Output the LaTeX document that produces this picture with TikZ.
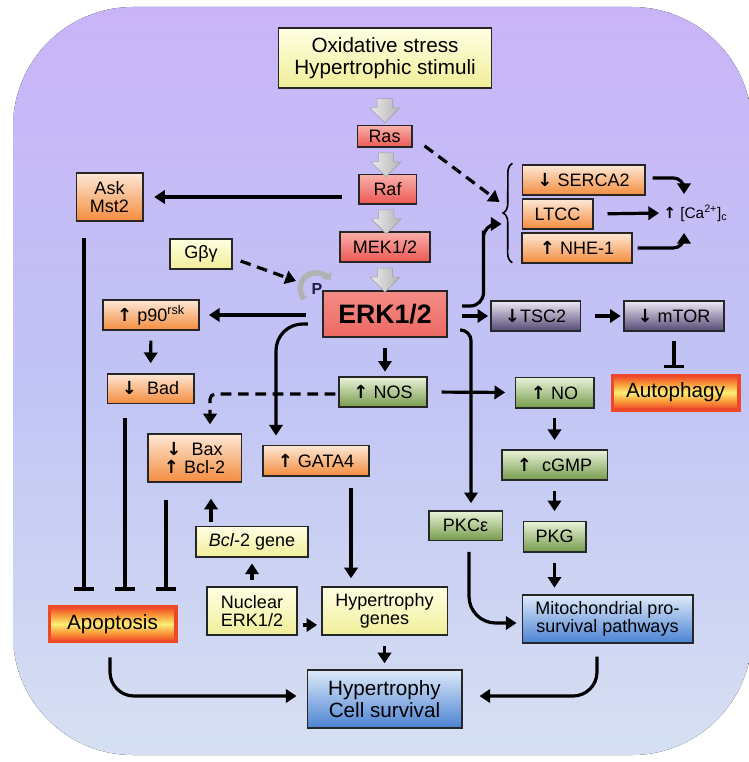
\documentclass[tikz,border=0pt]{standalone}
\usepackage{fontspec}
\setmainfont{Liberation Sans}
\newfontfamily\arrfont{DejaVu Sans}
\usetikzlibrary{shapes.arrows, arrows.meta, calc, decorations.pathreplacing}

\definecolor{bgtop}{RGB}{201,180,248}
\definecolor{bgmid}{RGB}{193,196,244}
\definecolor{bgbot}{RGB}{214,224,242}
\definecolor{ytop}{RGB}{255,255,228}
\definecolor{ybot}{RGB}{240,238,152}
\definecolor{rtop}{RGB}{250,175,170}
\definecolor{rbot}{RGB}{236,88,82}
\definecolor{otop}{RGB}{253,232,214}
\definecolor{obot}{RGB}{244,140,62}
\definecolor{gtop}{RGB}{234,243,218}
\definecolor{gbot}{RGB}{118,155,76}
\definecolor{ptop}{RGB}{236,232,246}
\definecolor{pbot}{RGB}{86,72,116}
\definecolor{btop}{RGB}{222,234,250}
\definecolor{bbot}{RGB}{76,130,210}
\definecolor{hin}{RGB}{255,238,118}
\definecolor{hmid}{RGB}{250,158,60}
\definecolor{hout}{RGB}{238,72,40}
\definecolor{pcol}{RGB}{30,30,70}

\pgfdeclareverticalshading{glow}{100bp}{color(0bp)=(hout); color(26bp)=(hout); color(38bp)=(hmid); color(50bp)=(hin); color(62bp)=(hmid); color(74bp)=(hout); color(100bp)=(hout)}

\newcommand{\fsn}{\fontsize{13.5}{13.5}\selectfont}
\newcommand{\fsl}{\fontsize{15.5}{16.5}\selectfont}
\newcommand{\up}{{\arrfont\bfseries ↑}}
\newcommand{\dn}{{\arrfont\bfseries ↓}}

\tikzstyle{box} = [rectangle, draw=black!85, line width=1pt, inner sep=1pt, align=center, font=\fsn]
\tikzstyle{ybox} = [box, top color=ytop, bottom color=ybot]
\tikzstyle{rbox} = [box, top color=rtop, bottom color=rbot]
\tikzstyle{obox} = [box, top color=otop, bottom color=obot]
\tikzstyle{gbox} = [box, top color=gtop, bottom color=gbot]
\tikzstyle{pbox} = [box, top color=ptop, bottom color=pbot]
\tikzstyle{bbox} = [box, top color=btop, bottom color=bbot]
\tikzstyle{hbox} = [box, draw=hout, line width=2.5pt, shading=glow, font=\fsl]
\tikzstyle{arr} = [line width=2.4pt, -{Triangle[length=8pt,width=10pt]}]
\tikzstyle{inh} = [line width=2.4pt, -{Bar[width=15pt]}]
\tikzstyle{dashln} = [dash pattern=on 8pt off 5pt]
\tikzstyle{garrow} = [single arrow, rotate=-90, draw=gray!75, left color=gray!15, right color=gray!60, minimum height=18pt, minimum width=22pt, single arrow head extend=5.5pt, inner xsep=0pt, inner ysep=5.5pt]

\begin{document}
\begin{tikzpicture}[x=0.75pt, y=-0.75pt]
    \useasboundingbox (0,0) rectangle (748,762);
    \fill[top color=bgtop, bottom color=bgbot, middle color=bgmid, rounded corners=90pt] (13,7) rectangle (752,755);

    % MAPK cascade
    \node[ybox, font=\fsl, minimum width=160pt, minimum height=45pt] (stress) at (385,58) {Oxidative stress\\Hypertrophic stimuli};
    \node[rbox, minimum width=41pt, minimum height=16pt] (ras) at (384.5,136.5) {Ras};
    \node[rbox, minimum width=43pt, minimum height=22pt] (raf) at (387.5,189.5) {Raf};
    \node[rbox, minimum width=67.5pt, minimum height=22.5pt] (mek) at (385,247) {MEK1/2};
    \node[rbox, top color=rtop!60!rbot, bottom color=rbot!90, line width=1.8pt, font=\bfseries\fontsize{20}{20}\selectfont, minimum width=93pt, minimum height=34.5pt] (erk) at (385,314) {ERK1/2};
    \node[garrow] (g1) at ($(stress.south)!0.5!(ras.north)$) {};
    \node[garrow] (g2) at ($(ras.south)!0.5!(raf.north)$) {};
    \node[garrow] (g3) at ($(raf.south)!0.5!(mek.north)$) {};
    \node[garrow] (g4) at ($(mek.south)!0.5!(erk.north)$) {};

    \node[ybox, minimum width=46.5pt, minimum height=22.5pt] (gby) at (201,254) {Gβγ};
    \node[font=\bfseries\fontsize{12}{12}\selectfont, text=pcol, inner sep=0pt] (p) at (317,289) {P};

    % left branch
    \node[obox, minimum width=50pt, minimum height=36pt] (ask) at (109.5,197) {Ask\\Mst2};
    \node[obox, minimum width=72pt, minimum height=22.5pt] (p90) at (151,315) {\up\ p90\textsuperscript{rsk}};
    \node[obox, minimum width=65pt, minimum height=22pt] (bad) at (150.5,388.5) {\dn\ \ Bad};
    \node[obox, minimum width=70pt, minimum height=36pt] (bax) at (194.5,458) {\dn\ \ Bax\\\up\ Bcl-2};
    \node[obox, minimum width=79.5pt, minimum height=23pt] (gata) at (316,460.5) {\up\ GATA4};
    \node[hbox, minimum width=95pt, minimum height=26.5pt] (apop) at (112.5,624) {Apoptosis};

    % NO branch
    \node[gbox, minimum width=66pt, minimum height=22.5pt] (nos) at (383,392) {\up\ NOS};
    \node[gbox, minimum width=59pt, minimum height=23pt] (no) at (554.5,392.5) {\up\ NO};
    \node[gbox, minimum width=79pt, minimum height=22.5pt] (cgmp) at (554.5,465) {\up\ \ cGMP};
    \node[gbox, minimum width=47pt, minimum height=23pt] (pkg) at (554.5,536.5) {PKG};
    \node[gbox, minimum width=55pt, minimum height=22pt] (pkce) at (465.5,525.5) {PKCε};
    \node[bbox, minimum width=128pt, minimum height=36pt] (mito) at (607.5,619) {Mitochondrial pro-\\survival pathways};

    % right branch
    \node[pbox, minimum width=67pt, minimum height=22.5pt] (tsc) at (535.5,316) {\dn TSC2};
    \node[pbox, minimum width=75pt, minimum height=22.5pt] (mtor) at (674,316) {\dn\ mTOR};
    \node[hbox, minimum width=95pt, minimum height=26pt] (auto) at (675.5,392.5) {Autophagy};
    \node[obox, minimum width=92pt, minimum height=22.5pt] (serca) at (583.5,180) {\dn\ SERCA2};
    \node[obox, minimum width=53pt, minimum height=22.5pt] (ltcc) at (557.5,214) {LTCC};
    \node[obox, minimum width=82.5pt, minimum height=22.5pt] (nhe) at (577,248) {\up\ NHE-1};
    \node[font=\fontsize{11.5}{11.5}\selectfont, inner sep=0pt, anchor=west] (ca) at (663,213) {\up\ [Ca\textsuperscript{2+}]\textsubscript{c}};
    \coordinate (br) at ($(ltcc.west)+(-20,0)$);

    % nucleus
    \node[ybox, minimum width=84pt, minimum height=23pt] (bclg) at (252,541.5) {\textit{Bcl}-2 gene};
    \node[ybox, minimum width=67.5pt, minimum height=36pt] (nuc) at (252,611) {Nuclear\\ERK1/2};
    \node[ybox, minimum width=94pt, minimum height=36pt] (hypg) at (384.5,611) {Hypertrophy\\genes};
    \node[bbox, font=\fsl, minimum width=116pt, minimum height=43.5pt] (surv) at (384.5,699) {Hypertrophy\\Cell survival};

    % phosphorylation
    \draw[gray!60, line width=4pt, -{Triangle[length=5pt,width=9pt]}] ($(p.center)+(-13,10)$) arc[start angle=220, end angle=30, radius=12pt];
    \draw[arr, dashln] ($(gby.east)+(8,7)$) -- ($(p.center)+(-21,-8)$);

    % calcium
    \draw[line width=1.2pt, decorate, decoration={brace, amplitude=7pt}] ($(nhe.south west)+(-9,-1)$) -- ($(serca.north west)+(-9,-1)$);
    \draw[arr, dashln] ($(ras.south east)+(12,-2)$) -- ($(br)+(-2,-12)$);
    \draw[arr, rounded corners=10pt] ($(erk.east)+(14,-8)$) -| ($(br)+(-18,30)$) |- ($(br)+(0,10)$);
    \draw[arr, rounded corners=8pt] ($(serca.east)+(7,-2)$) -| ($(ca.west)+(21,-19)$);
    \draw[arr, shorten <=10.5pt, shorten >=3pt] (ltcc.east) -- (ca.west);
    \draw[arr, rounded corners=8pt] ($(nhe.east)+(5,0)$) -| ($(ca.west)+(21,20)$);

    % ERK targets
    \draw[arr, shorten <=12pt, shorten >=8pt] (raf.west |- ask.east) -- (ask.east);
    \draw[arr, shorten <=12pt, shorten >=7pt] (erk.west |- p90.east) -- (p90.east);
    \draw[arr, shorten <=7.5pt, shorten >=7.5pt] (p90.south) -- (bad.north);
    \draw[arr, rounded corners=20pt] ($(erk.west)+(-14,10)$) -| ($(gata.north)+(-40,-9)$);
    \draw[arr, shorten <=7.5pt, shorten >=3.5pt] (erk.south) -- (erk.south |- nos.north);
    \draw[arr, dashln, rounded corners=4pt] ($(nos.west)+(-3,2)$) -| ($(bax.north)+(15.5,-9)$);
    \draw[arr, shorten <=10.5pt, shorten >=1.5pt] (erk.east |- tsc.west) -- (tsc.west);
    \draw[arr, shorten <=10.5pt, shorten >=2pt] (tsc.east) -- (mtor.west);
    \draw[inh, shorten <=7pt, shorten >=4pt] (mtor.south) -- (mtor.south |- auto.north);
    \draw[arr, rounded corners=8pt] ($(erk.east)+(14,16)$) -| ($(pkce.north)+(5.5,-7)$);

    % apoptosis
    \draw[inh] ($(ask.south)+(-25.5,16)$) -- ($(apop.north)+(-28.5,-14)$);
    \draw[inh] ($(bad.south)+(-25.5,14)$) -- ($(apop.north)+(12.5,-14)$);
    \draw[inh] ($(bax.south)+(-28.5,17)$) -- ($(apop.north)+(53.5,-14)$);

    % NO / cGMP
    \draw[arr, shorten <=10.5pt, shorten >=7pt] (nos.east) -- (no.west);
    \draw[arr, shorten <=7pt, shorten >=7pt] (no.south) -- (cgmp.north);
    \draw[arr, shorten <=8pt, shorten >=7pt] (cgmp.south) -- (pkg.north);
    \draw[arr, shorten <=7.5pt, shorten >=5pt] (pkg.south) -- (pkg.south |- mito.north);
    \draw[arr, rounded corners=20pt] ($(pkce.south)+(3.5,11)$) |- ($(mito.west)+(-5,4)$);

    % nuclear
    \draw[arr, shorten <=5pt, shorten >=4.5pt] (nuc.north) -- (bclg.south);
    \draw[arr] ($(bclg.north)+(-41,-4)$) -- ($(bax.south)+(16.5,16)$);
    \draw[arr] ($(nuc.east)+(5,14)$) -- ($(hypg.west)+(-4,14)$);
    \draw[arr] ($(gata.south)+(35,11)$) -- ($(hypg.north)+(-33.5,-8)$);
    \draw[arr, shorten <=8pt, shorten >=4.5pt] (hypg.south) -- (surv.north);
    \draw[arr, rounded corners=18pt] ($(apop.south)+(-2.5,14)$) |- ($(surv.west)+(-10,-3)$);
    \draw[arr, rounded corners=18pt] ($(mito.south)+(-10.5,13)$) |- ($(surv.east)+(17,-3)$);
\end{tikzpicture}
\end{document}
